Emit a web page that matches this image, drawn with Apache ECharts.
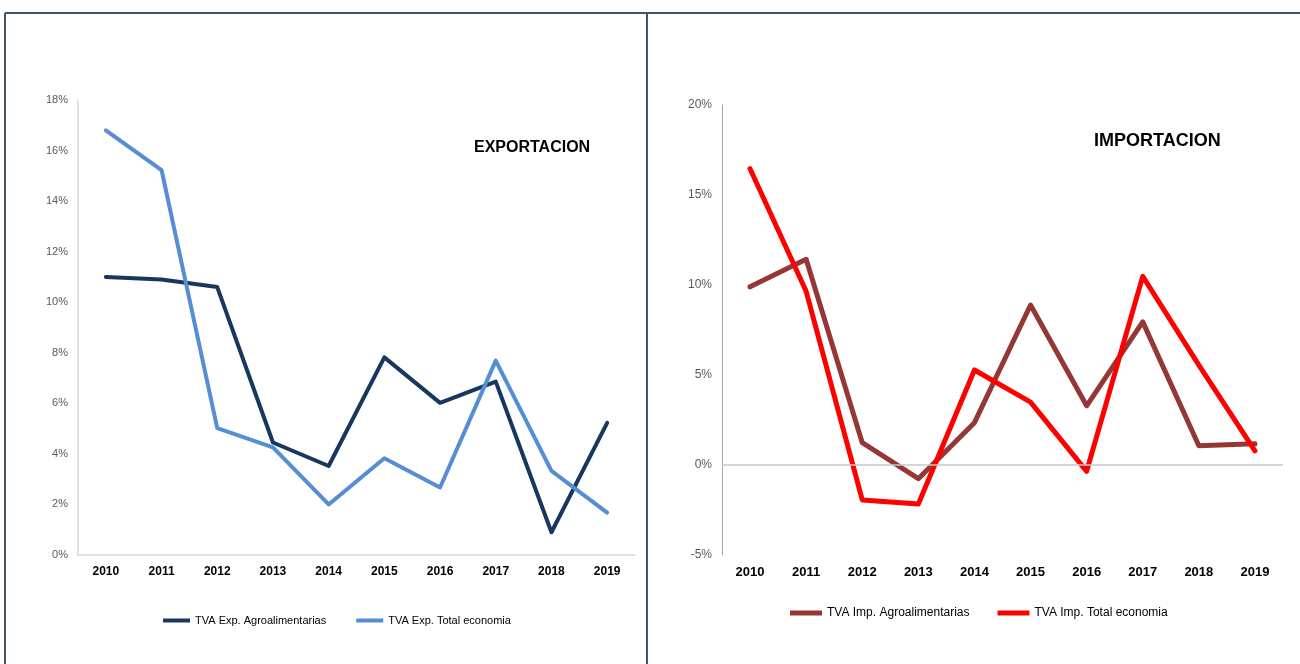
<!DOCTYPE html>
<html><head><meta charset="utf-8">
<script src="https://cdn.jsdelivr.net/npm/echarts@6/dist/echarts.min.js"></script>
<style>html,body{margin:0;padding:0;background:#fff}#c{width:1300px;height:664px}</style>
</head><body><div id="c"></div>
<script>
const years = ['2010','2011','2012','2013','2014','2015','2016','2017','2018','2019'];
const expAgro = [11.0, 10.9, 10.6, 4.45, 3.52, 7.82, 6.02, 6.86, 0.9, 5.23];
const expTotal = [16.8, 15.23, 5.02, 4.26, 2.0, 3.83, 2.67, 7.69, 3.33, 1.68];
const impAgro = [9.9, 11.43, 1.24, -0.76, 2.35, 8.89, 3.29, 7.95, 1.07, 1.18];
const impTotal = [16.46, 9.65, -1.94, -2.17, 5.28, 3.49, -0.35, 10.48, 5.55, 0.79];
const names = ['TVA Exp. Agroalimentarias','TVA Exp. Total economia','TVA Imp. Agroalimentarias','TVA Imp. Total economia'];
const titles = ['EXPORTACION','IMPORTACION'];

const FONT = '"Liberation Sans", Arial, sans-serif';
const frame = '#44546a';
const chart = echarts.init(document.getElementById('c'), null, {renderer:'canvas'});
chart.setOption({
  backgroundColor:'#fff',
  animation:false,
  textStyle:{fontFamily:FONT},
  title:[
    {text:titles[0], left:469, top:135, textStyle:{fontFamily:FONT,fontSize:16,fontWeight:'bold',color:'#000'}},
    {text:titles[1], left:1089, top:127, textStyle:{fontFamily:FONT,fontSize:18,fontWeight:'bold',color:'#000'}}
  ],
  legend:[
    {data:[names[0],names[1]], left:158, top:610, icon:'rect', itemWidth:27, itemHeight:4, itemGap:30,
     textStyle:{fontFamily:FONT,fontSize:11,color:'#000'}},
    {data:[names[2],names[3]], left:785, top:602, icon:'rect', itemWidth:32, itemHeight:5, itemGap:28,
     textStyle:{fontFamily:FONT,fontSize:12,color:'#000'}}
  ],
  grid:[
    {left:78, top:100, width:557, height:455},
    {left:722, top:105, width:561, height:450}
  ],
  xAxis:[
    {type:'category', gridIndex:0, data:years, boundaryGap:true,
     axisLine:{show:true,lineStyle:{color:'#d9d9d9',width:1.5}}, axisTick:{show:false},
     axisLabel:{margin:11,fontFamily:FONT,fontSize:12,fontWeight:'bold',color:'#000'}},
    {type:'category', gridIndex:1, data:years, boundaryGap:true,
     axisLine:{show:false,onZero:false}, axisTick:{show:false},
     axisLabel:{margin:11,fontFamily:FONT,fontSize:13,fontWeight:'bold',color:'#000'}}
  ],
  yAxis:[
    {type:'value', gridIndex:0, min:0, max:18, interval:2,
     axisLine:{show:true,lineStyle:{color:'#d9d9d9',width:1.5}}, axisTick:{show:false}, splitLine:{show:false},
     axisLabel:{margin:10,formatter:'{value}%',fontFamily:FONT,fontSize:11,color:'#595959'}},
    {type:'value', gridIndex:1, min:-5, max:20, interval:5,
     axisLine:{show:true,lineStyle:{color:'#a6a6a6',width:1}}, axisTick:{show:false}, splitLine:{show:false},
     axisLabel:{margin:10,formatter:'{value}%',fontFamily:FONT,fontSize:12,color:'#595959'}}
  ],
  series:[
    {name:names[0], type:'line', xAxisIndex:0, yAxisIndex:0, data:expAgro, symbol:'none',
     color:'#17375e', lineStyle:{width:4,color:'#17375e',cap:'round',join:'round'}},
    {name:names[1], type:'line', xAxisIndex:0, yAxisIndex:0, data:expTotal, symbol:'none',
     color:'#558ed5', lineStyle:{width:4,color:'#558ed5',cap:'round',join:'round'}},
    {name:names[2], type:'line', xAxisIndex:1, yAxisIndex:1, data:impAgro, symbol:'none',
     color:'#953735', lineStyle:{width:5,color:'#953735',cap:'round',join:'round'},
     markLine:{silent:true, symbol:'none', label:{show:false},
       lineStyle:{color:'#c8c8c8',width:1.5,type:'solid'}, data:[{yAxis:0}]}, z:3},
    {name:names[3], type:'line', xAxisIndex:1, yAxisIndex:1, data:impTotal, symbol:'none',
     color:'#ff0000', lineStyle:{width:5,color:'#ff0000',cap:'round',join:'round'}, z:4}
  ],
  graphic:[
    {type:'line', shape:{x1:5,y1:13,x2:1300,y2:13}, style:{stroke:frame,lineWidth:2}, silent:true},
    {type:'line', shape:{x1:5,y1:13,x2:5,y2:664}, style:{stroke:frame,lineWidth:2}, silent:true},
    {type:'line', shape:{x1:647,y1:13,x2:647,y2:664}, style:{stroke:frame,lineWidth:2}, silent:true}
  ]
});
</script></body></html>
